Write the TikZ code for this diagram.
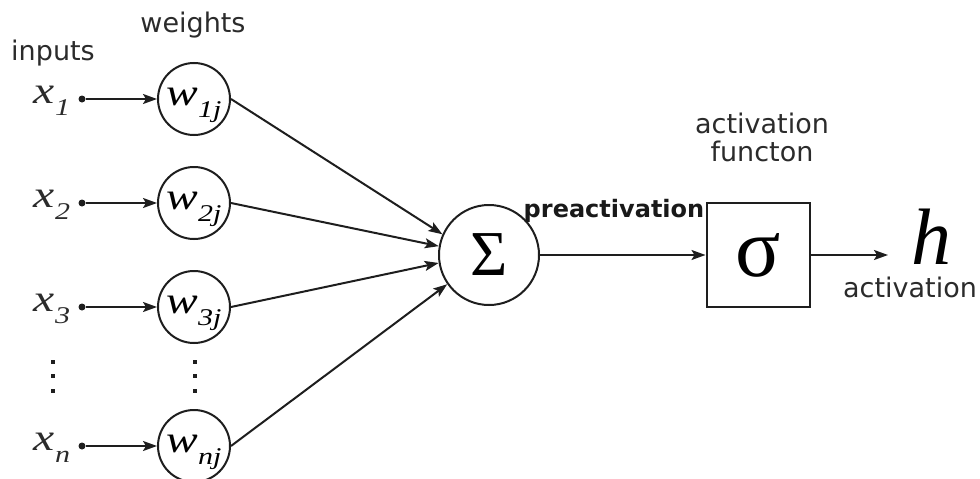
\documentclass[tikz,border=0pt]{standalone}
\usepackage{fontspec}
\setmainfont{Liberation Serif}
\newfontfamily\labfont{DejaVu Sans}
\usetikzlibrary{arrows.meta}
\newcommand\mymath[2]{\scalebox{1.25}[1]{\fontsize{38}{38}\selectfont\itshape #1\raisebox{-12pt}{\fontsize{24}{24}\selectfont #2}}}
\definecolor{ink}{HTML}{1E1E1E}
\definecolor{txt}{HTML}{2B2B2B}
\tikzset{
  wnode/.style={circle, draw=ink, line width=2pt, minimum size=72pt, inner sep=0pt, text height=22pt, text depth=10pt},
  arr/.style={draw=ink, line width=2pt, -{Stealth[length=14pt,width=10pt,inset=3pt]}},
  dotnode/.style={circle, fill=ink, inner sep=0pt, minimum size=7pt},
  lbl/.style={font=\labfont\fontsize{27}{32}\selectfont, text=txt, anchor=base, inner sep=0pt},
  xlbl/.style={text=txt, anchor=base, inner sep=0pt},
}
\begin{document}
\begin{tikzpicture}[x=1pt,y=-1pt]
\useasboundingbox (0,0) rectangle (980,479);
% header labels
\node[lbl] (inputs) at (53,60) {inputs};
\node[lbl] (weights) at (193,32) {weights};
% input labels
\node[xlbl] (x1) at (52,103) {\mymath{x}{1}};
\node[xlbl] (x2) at (52,207) {\mymath{x}{2}};
\node[xlbl] (x3) at (52,311) {\mymath{x}{3}};
\node[xlbl] (xn) at (52,450) {\mymath{x}{n}};
% input dots
\node[dotnode] (d1) at (82,99) {};
\node[dotnode] (d2) at (82,203) {};
\node[dotnode] (d3) at (82,307) {};
\node[dotnode] (dn) at (82,446) {};
% weight circles
\node[wnode] (w1) at (194,99) {\mymath{w}{1j}};
\node[wnode] (w2) at (194,203) {\mymath{w}{2j}};
\node[wnode] (w3) at (194,307) {\mymath{w}{3j}};
\node[wnode] (wn) at (194,446) {\mymath{w}{nj}};
% vertical ellipses
\foreach \yy in {362,376,391}{
  \fill[ink] (51,\yy-2.2) rectangle (55.4,\yy+2.2);
  \fill[ink] (193,\yy-2.2) rectangle (197.4,\yy+2.2);
}
% sum node
\node[circle, draw=ink, line width=2pt, minimum size=100pt, inner sep=0pt, font=\fontsize{64}{64}\selectfont] (sig) at (489,255) {Σ};
% activation box
\node[draw=ink, line width=2pt, minimum width=103pt, minimum height=104pt, inner sep=0pt, font=\fontsize{84}{84}\selectfont] (act) at (758,255) {σ};
% output
\node[anchor=base, inner sep=0pt, font=\fontsize{80}{80}\selectfont\itshape] (h) at (931,264) {h};
\coordinate (hin) at (888,255);
% labels
\node[lbl, font=\labfont\bfseries\fontsize{24}{28}\selectfont, text=black!90] (pre) at (614,217) {preactivation};
\node[lbl] (af1) at (762,133) {activation};
\node[lbl] (af2) at (762,161) {functon};
\node[lbl] (outl) at (910,297) {activation};
% connectors
\draw[arr] (d1) -- (w1);
\draw[arr] (d2) -- (w2);
\draw[arr] (d3) -- (w3);
\draw[arr] (dn) -- (wn);
\draw[arr] (w1.east) -- (sig.156);
\draw[arr] (w2.east) -- (sig.170);
\draw[arr] (w3.east) -- (sig.189);
\draw[arr] (wn.east) -- (sig.215);
\draw[arr] (sig) -- (act);
\draw[arr] (act) -- (hin);
\end{tikzpicture}
\end{document}
